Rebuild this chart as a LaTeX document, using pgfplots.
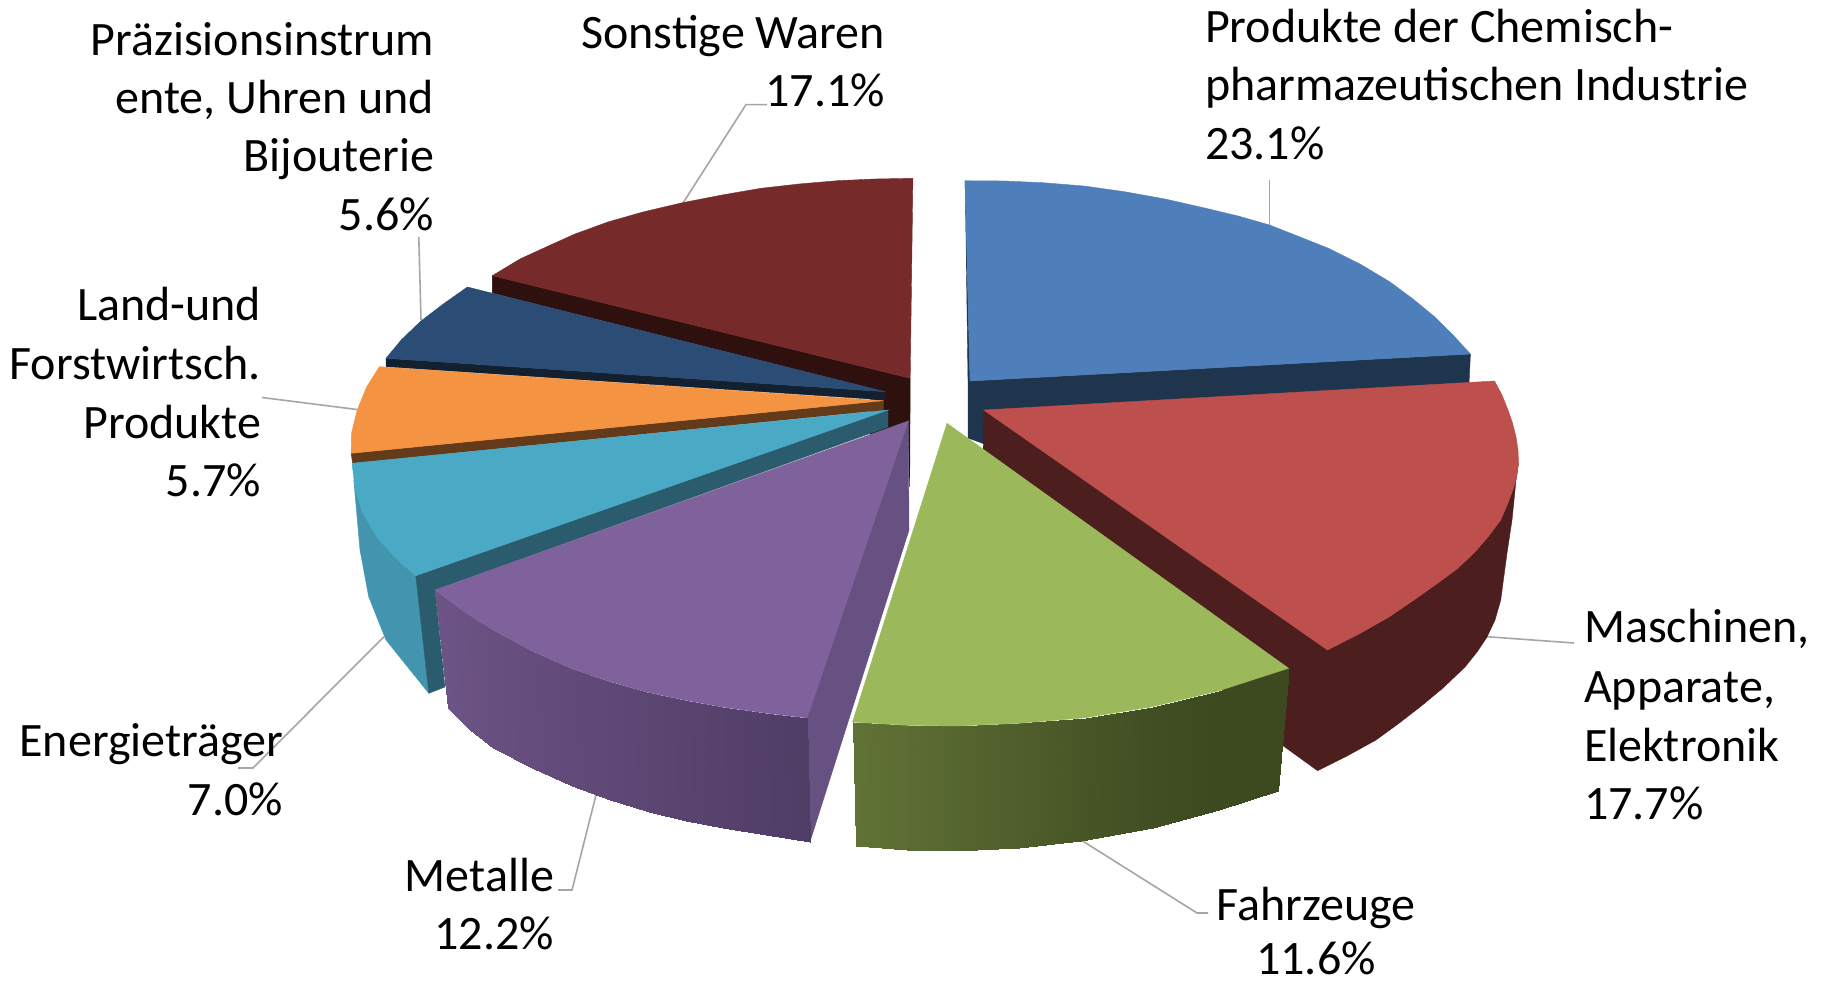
\documentclass[border=0pt]{standalone}
\usepackage{pgfplots}
\pgfplotsset{compat=1.18}
\usepackage{fontspec}
\setmainfont{Carlito}
\definecolor{blueT}{HTML}{4E7FBA}
\definecolor{blueS}{HTML}{1F344D}
\definecolor{redT}{HTML}{BD4F4C}
\definecolor{redS}{HTML}{4D1E1E}
\definecolor{greenT}{HTML}{9BB95A}
\definecolor{purT}{HTML}{7F629C}
\definecolor{purC}{HTML}{675082}
\definecolor{cyaT}{HTML}{4AA9C4}
\definecolor{cyaC}{HTML}{2A5C6D}
\definecolor{cyaS}{HTML}{4395AF}
\definecolor{oraT}{HTML}{F49443}
\definecolor{oraS}{HTML}{633A1A}
\definecolor{navT}{HTML}{2A4C75}
\definecolor{navS}{HTML}{122030}
\definecolor{marT}{HTML}{772A2A}
\definecolor{marS}{HTML}{2E100F}
\definecolor{lead}{HTML}{A6A6A6}
\pgfplotsset{
  colormap={purG}{rgb255=(80,61,102) rgb255=(109,84,134)},
  colormap={greG}{rgb255=(61,74,32) rgb255=(97,114,54)},
}
\newcommand{\poly}[2]{\addplot[fill=#1,draw=#1,line width=0.4pt] coordinates {#2} -- cycle;}
\newcommand{\leadline}[1]{\addplot[draw=lead,line width=1.6bp] coordinates {#1};}
\newcommand{\lb}[4]{\node[anchor=base #1,inner sep=0pt,outer sep=0pt] at (axis cs:#2,#3) {\fontsize{48bp}{58bp}\selectfont #4};}
\begin{document}
\begin{tikzpicture}
\begin{axis}[
  at={(0,0)},anchor=south west,
  width=1822bp,height=981bp,scale only axis,
  xmin=0,xmax=1822,ymin=0,ymax=981,y dir=reverse,
  hide axis,no markers,clip=false,point meta min=0,point meta max=1]
% page
\addplot[fill=white,draw=none] coordinates {(0,0)(1822,0)(1822,981)(0,981)} -- cycle;
% leader lines
\leadline{(683,203)(746,104.6)(767,104.6)}
\leadline{(418.8,237)(421,320)}
\leadline{(262,397.5)(357,409.5)}
\leadline{(238,768)(253,768)(384,636.7)}
\leadline{(558,890)(572,890)(596,795)}
\leadline{(1208,913)(1197,913)(1081,840)}
\leadline{(1574,643)(1487,636.7)}
\leadline{(1269.6,180)(1269.6,228)}
% Sonstige Waren
\poly{marS}{(492.3,275.7)(492.3,293)(870,388)(870,435)(908,425)(909.7,487)(910.2,378.3)}
\poly{marT}{(912.9,178.3)(875,179)(837.5,180.7)(799,184)(761,188.3)(722,195)(682.5,202.7)(643,212)(607.9,222)(575,234)(550.5,245)(520,259)(492.3,275.7)(910.2,378.3)}
% Praezision
\poly{navS}{(386,358.3)(386,366.7)(885.3,400)(885.3,391.7)}
\poly{navT}{(467.4,287)(443.3,304)(420.4,321.5)(401.2,340)(386,358.3)(885.3,391.7)}
% Land
\poly{oraS}{(351.1,453.3)(352.6,463.3)(883.4,410)(883.4,400.7)}
\poly{oraT}{(379.4,366.7)(366.8,386.7)(357.2,410)(351.5,433.3)(351.1,453.3)(883.4,400.7)}
% Energie
\poly{cyaS}{(353.8,480)(355.3,490)(362,511)(370.6,526.7)(389.8,551.7)(415.8,575.7)(428.8,693.3)(386,640)(368.7,596.7)(360,550)}
\poly{cyaC}{(888,410)(415.8,575.7)(428.8,693.3)(445,687)(435,590)(888,427)}
\poly{cyaT}{(352,463.3)(355.3,490)(362,510)(370.6,526.7)(379,540)(389.8,551.7)(402,564)(415.8,575.7)(888,410)}
% Metalle
\poly{purC}{(908.3,421)(807,717.7)(810,841.7)(909,530)}
\addplot[patch,patch type=rectangle,shader=interp,colormap name=purG,point meta=explicit] coordinates {
 (435,590)[1] (463,611)[0.9] (470,730)[0.9] (448,708)[1]
 (463,611)[0.9] (493,630)[0.8] (493,748)[0.8] (470,730)[0.9]
 (493,630)[0.8] (530,650)[0.7] (532,768)[0.7] (493,748)[0.8]
 (530,650)[0.7] (570,668)[0.6] (572,786)[0.6] (532,768)[0.7]
 (570,668)[0.6] (608,681)[0.5] (610,800)[0.5] (572,786)[0.6]
 (608,681)[0.5] (646,692)[0.4] (649,812)[0.4] (610,800)[0.5]
 (646,692)[0.4] (684,700)[0.3] (686,821)[0.3] (649,812)[0.4]
 (684,700)[0.3] (722,707)[0.2] (723,828)[0.2] (686,821)[0.3]
 (722,707)[0.2] (765,713)[0.1] (766,835)[0.1] (723,828)[0.2]
 (765,713)[0.1] (807,718)[0] (810,842)[0] (766,835)[0.1]
};
\poly{purT}{(908.3,421)(435,590)(463,611)(493,630)(530,650)(570,668)(608,681)(646,692)(684,700)(722,707)(765,713)(807,718)}
% Chemie
\poly{blueS}{(965,181)(965.5,200)(968,381)(968,438)(990,446)(990,415)(1469,384)(1470.4,354)(970,381)}
\poly{blueT}{(965,180.7)(1004,181)(1042.8,182.7)(1084,186)(1124.4,191.7)(1165,199)(1206,208.3)(1238,216)(1269.6,225)(1300,237)(1328.4,248.3)(1360,264)(1389.6,281.7)(1413,299)(1434.5,316.7)(1453,335)(1470.4,354)(970,381)}
% Maschinen
\poly{redS}{(983.6,410)(1518.5,463)(1516,480)(1512,520)(1507,553)(1500.7,600)(1495,620)(1487,637)(1477,652)(1465,667)(1443,688)(1420,707)(1398,724)(1376,740)(1347,756)(1317.6,770.7)(1282,745)(983,470)}
\poly{redT}{(983.6,410)(1494.5,381)(1502,395)(1508,410)(1512.5,423)(1516,436.7)(1518,450)(1518.5,463)(1517,475)(1514,486.7)(1508,503)(1500.7,520)(1488,537)(1474,553)(1457,569)(1438,583)(1414,600)(1389,617)(1359,634)(1327.5,650)}
% Fahrzeuge
\addplot[patch,patch type=rectangle,shader=interp,colormap name=greG,point meta=explicit] coordinates {
 (852.5,722)[1] (907,725.3)[0.85] (907,850)[0.85] (855.6,846)[1]
 (907,725.3)[0.85] (956,726)[0.7] (956,850.7)[0.7] (907,850)[0.85]
 (956,726)[0.7] (1018.6,723.3)[0.5] (1018.6,847.7)[0.5] (956,850.7)[0.7]
 (1018.6,723.3)[0.5] (1085.5,717.7)[0.3] (1081,841)[0.3] (1018.6,847.7)[0.5]
 (1085.5,717.7)[0.3] (1152.5,706.7)[0.1] (1152.5,828.3)[0.1] (1081,841)[0.3]
 (1152.5,706.7)[0.1] (1219.4,690.7)[0] (1219.4,810)[0] (1152.5,828.3)[0.1]
 (1219.4,690.7)[0] (1288.6,668.3)[0] (1278,791)[0] (1219.4,810)[0]
};
\poly{greenT}{(947,423.3)(1288.6,668.3)(1219.4,690.7)(1152.5,706.7)(1085.5,717.7)(1018.6,723.3)(956,726)(907,725.3)(852.5,722)}
% labels
\lb{west}{1205}{43}{Produkte der Chemisch-}
\lb{west}{1205}{101}{pharmazeutischen Industrie}
\lb{west}{1205}{160}{23.1\%}
\lb{east}{885}{49}{Sonstige Waren}
\lb{east}{885}{107}{17.1\%}
\lb{east}{434}{56}{Präzisionsinstrum}
\lb{east}{434}{114}{ente, Uhren und}
\lb{east}{434}{172}{Bijouterie}
\lb{east}{434}{231}{5.6\%}
\lb{east}{261}{321}{Land-und}
\lb{east}{261}{380}{Forstwirtsch.}
\lb{east}{261}{438}{Produkte}
\lb{east}{261}{496}{5.7\%}
\lb{east}{283}{756}{Energieträger}
\lb{east}{283}{815}{7.0\%}
\lb{east}{554}{891}{Metalle}
\lb{east}{554}{949}{12.2\%}
\lb{}{1316}{920}{Fahrzeuge}
\lb{}{1316}{974}{11.6\%}
\lb{west}{1584}{642}{Maschinen,}
\lb{west}{1584}{702}{Apparate,}
\lb{west}{1584}{761}{Elektronik}
\lb{west}{1584}{819}{17.7\%}
\end{axis}
\end{tikzpicture}
\end{document}
